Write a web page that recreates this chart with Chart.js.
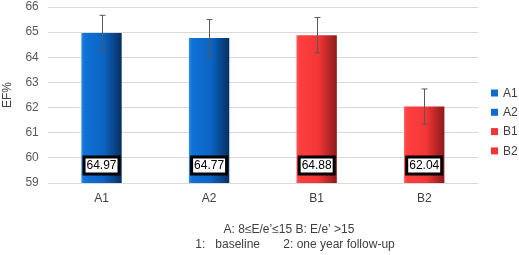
<!DOCTYPE html>
<html>
<head>
<meta charset="utf-8">
<script src="https://cdn.jsdelivr.net/npm/chart.js@4.4.0/dist/chart.umd.min.js"></script>
<style>
  html, body { margin: 0; padding: 0; background: #fff; }
  #wrap { width: 519px; height: 255px; position: relative; }
</style>
</head>
<body>
<div id="wrap"><canvas id="efChart"></canvas></div>
<script>
// chart data
const categories = ['A1', 'A2', 'B1', 'B2'];
const efValues = [64.97, 64.77, 64.88, 62.04];
const errValues = [0.70, 0.73, 0.70, 0.70];
const yMin = 59;
const yMax = 66;
const captionLines = [
    "A: 8\u2264E/e\u2019\u226415 B: E/e\u2019 >15",
    "1:   baseline       2: one year follow-up"
];

const groupColors = ['#0e6cd0', '#0e6cd0', '#f23434', '#f23434'];
const FONT = '"Liberation Sans", Arial, sans-serif';

// horizontal shading, light on the left and dark on the right
function barGradient(ctx) {
    const chart = ctx.chart;
    const xScale = chart.scales.x;
    const i = ctx.dataIndex;
    if (!xScale || i === undefined) return groupColors[i || 0];
    const catW = xScale.width / categories.length;
    const bw = catW * 0.375;
    const cx = xScale.getPixelForValue(i);
    if (!Number.isFinite(cx) || !Number.isFinite(bw) || bw <= 0) return groupColors[i];
    const g = chart.ctx.createLinearGradient(cx - bw / 2, 0, cx + bw / 2, 0);
    if (i < 2) {
        g.addColorStop(0, '#2a8cec');
        g.addColorStop(0.08, '#1072d6');
        g.addColorStop(0.55, '#0b64c4');
        g.addColorStop(1, '#072f62');
    } else {
        g.addColorStop(0, '#ff5a5a');
        g.addColorStop(0.08, '#ff3f3f');
        g.addColorStop(0.55, '#f23636');
        g.addColorStop(1, '#8c1a1a');
    }
    return g;
}

// error bars, value boxes, legend and caption
const extrasPlugin = {
    id: 'extras',
    afterDatasetsDraw(chart) {
        const ctx = chart.ctx;
        const x = chart.scales.x;
        const y = chart.scales.y;
        ctx.save();
        // error bars
        ctx.strokeStyle = '#595959';
        ctx.lineWidth = 1;
        efValues.forEach((v, i) => {
            const cx = Math.round(x.getPixelForValue(i)) + 0.5;
            const top = y.getPixelForValue(v + errValues[i]);
            const bot = y.getPixelForValue(v - errValues[i]);
            ctx.beginPath();
            ctx.moveTo(cx, top);
            ctx.lineTo(cx, bot);
            ctx.moveTo(cx - 3, top);
            ctx.lineTo(cx + 3, top);
            ctx.moveTo(cx - 3, bot);
            ctx.lineTo(cx + 3, bot);
            ctx.stroke();
        });
        // value boxes at bottom of each bar
        ctx.font = '12px ' + FONT;
        ctx.textAlign = 'center';
        ctx.textBaseline = 'middle';
        efValues.forEach((v, i) => {
            const cx = x.getPixelForValue(i);
            const cy = y.bottom - 17.5;
            const w = 35, h = 17;
            ctx.fillStyle = '#fff';
            ctx.fillRect(cx - w / 2, cy - h / 2, w, h);
            ctx.strokeStyle = '#000';
            ctx.lineWidth = 3;
            ctx.strokeRect(cx - w / 2, cy - h / 2, w, h);
            ctx.fillStyle = '#000';
            ctx.fillText(v.toFixed(2), cx, cy + 0.5);
        });
        // legend on the right
        ctx.textAlign = 'left';
        categories.forEach((c, i) => {
            const ly = 93 + i * 19.3;
            ctx.fillStyle = groupColors[i];
            ctx.fillRect(491, ly - 3.5, 7, 7);
            ctx.fillStyle = '#404040';
            ctx.fillText(c, 503, ly + 0.5);
        });
        // caption
        ctx.fillStyle = '#404040';
        ctx.textAlign = 'center';
        ctx.fillText(captionLines[0], 289, 230);
        ctx.fillText(captionLines[1], 295, 245);
        ctx.restore();
    }
};

const canvas = document.getElementById('efChart');
new Chart(canvas.getContext('2d'), {
    type: 'bar',
    data: {
        labels: categories,
        datasets: [{
            label: 'EF%',
            data: efValues,
            backgroundColor: barGradient,
            borderWidth: 0,
            categoryPercentage: 0.75,
            barPercentage: 0.5
        }]
    },
    plugins: [extrasPlugin],
    options: {
        responsive: true,
        maintainAspectRatio: false,
        animation: false,
        layout: { padding: { top: 1, right: 41, bottom: 0, left: 0 } },
        scales: {
            x: {
                grid: { display: false, drawTicks: false },
                border: { display: false },
                ticks: {
                    color: '#404040',
                    font: { size: 12, family: FONT },
                    padding: 8
                },
                afterFit(scale) { scale.height = 72; }
            },
            y: {
                min: yMin,
                max: yMax,
                ticks: {
                    stepSize: 1,
                    color: '#595959',
                    font: { size: 12, family: FONT },
                    padding: 9
                },
                grid: { color: '#d9d9d9', drawTicks: false },
                border: { display: false },
                title: {
                    display: true,
                    text: 'EF%',
                    color: '#404040',
                    font: { size: 12, family: FONT },
                    padding: { top: 0, bottom: 2 }
                },
                afterFit(scale) { scale.paddingTop = 7; }
            }
        },
        plugins: {
            tooltip: { enabled: false },
            legend: { display: false }
        }
    }
});
</script>
</body>
</html>
